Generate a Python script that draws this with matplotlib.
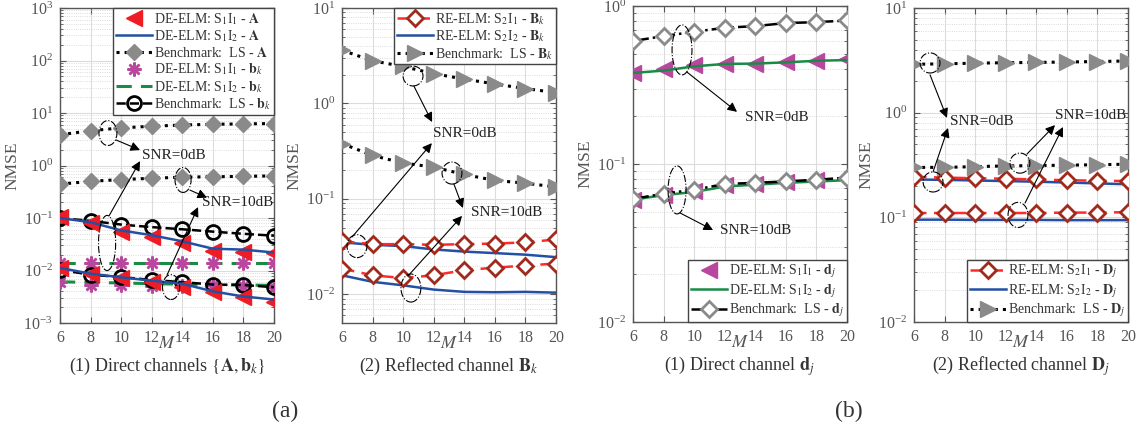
import matplotlib
matplotlib.use("Agg")
import matplotlib.pyplot as plt
from matplotlib.patches import Ellipse
from matplotlib.lines import Line2D

plt.rcParams['font.family'] = ['Liberation Serif', 'DejaVu Serif']
plt.rcParams['mathtext.fontset'] = 'stix'

M = [6, 8, 10, 12, 14, 16, 18, 20]

# Panel (a)-(1): direct channels {A, b_k}
a1_s1i1_A_0 = [0.105, 0.079, 0.055, 0.043, 0.034, 0.024, 0.023, 0.022]
a1_s1i2_A_0 = [0.100, 0.083, 0.058, 0.047, 0.036, 0.026, 0.025, 0.022]
a1_ls_A_0 = [3.85, 4.6, 5.2, 5.6, 5.9, 6.1, 6.2, 6.3]
a1_s1i1_b_0 = [0.0138, 0.0138, 0.0138, 0.0138, 0.0138, 0.0138, 0.0138, 0.0138]
a1_s1i2_b_0 = [0.0136, 0.0136, 0.0136, 0.0136, 0.0136, 0.0136, 0.0136, 0.0136]
a1_ls_b_0 = [0.100, 0.088, 0.075, 0.067, 0.061, 0.055, 0.050, 0.046]
a1_s1i1_A_10 = [0.011, 0.0086, 0.0073, 0.0060, 0.0048, 0.0039, 0.0031, 0.0025]
a1_s1i2_A_10 = [0.0112, 0.0087, 0.0074, 0.0064, 0.0056, 0.0040, 0.0032, 0.0028]
a1_ls_A_10 = [0.44, 0.50, 0.54, 0.57, 0.60, 0.61, 0.62, 0.635]
a1_s1i1_b_10 = [0.0060, 0.0053, 0.0054, 0.0051, 0.0050, 0.0052, 0.0051, 0.0049]
a1_s1i2_b_10 = [0.0061, 0.0059, 0.0058, 0.0056, 0.0055, 0.0054, 0.0053, 0.0052]
a1_ls_b_10 = [0.0103, 0.0083, 0.0075, 0.0066, 0.0060, 0.0054, 0.0053, 0.0048]

# Panel (a)-(2): reflected channel B_k
a2_s2i1_0 = [0.036, 0.0335, 0.0335, 0.033, 0.0335, 0.034, 0.035, 0.0375]
a2_s2i2_0 = [0.035, 0.033, 0.032, 0.0295, 0.028, 0.027, 0.026, 0.0245]
a2_ls_0 = [3.6, 2.8, 2.44, 2.05, 1.8, 1.6, 1.43, 1.3]
a2_s2i1_10 = [0.0186, 0.0158, 0.0148, 0.0158, 0.0179, 0.019, 0.020, 0.021]
a2_s2i2_10 = [0.0158, 0.0135, 0.0124, 0.0112, 0.0106, 0.0105, 0.0106, 0.0104]
a2_ls_10 = [0.38, 0.285, 0.237, 0.215, 0.18, 0.156, 0.146, 0.133]

# Panel (b)-(1): direct channel d_j
b1_s1i1_0 = [0.377, 0.40, 0.425, 0.43, 0.43, 0.44, 0.45, 0.46]
b1_s1i2_0 = [0.377, 0.39, 0.415, 0.43, 0.432, 0.44, 0.45, 0.455]
b1_ls_0 = [0.60, 0.645, 0.687, 0.728, 0.746, 0.78, 0.79, 0.81]
b1_s1i1_10 = [0.0595, 0.064, 0.067, 0.0735, 0.075, 0.077, 0.079, 0.081]
b1_s1i2_10 = [0.0595, 0.0635, 0.0665, 0.072, 0.074, 0.076, 0.0775, 0.079]
b1_ls_10 = [0.060, 0.065, 0.0687, 0.0747, 0.076, 0.0776, 0.0795, 0.082]

# Panel (b)-(2): reflected channel D_j
b2_s2i1_0 = [0.243, 0.240, 0.236, 0.234, 0.230, 0.226, 0.224, 0.222]
b2_s2i2_0 = [0.230, 0.228, 0.225, 0.222, 0.219, 0.215, 0.211, 0.207]
b2_ls_0 = [2.9, 2.93, 2.97, 3.0, 3.02, 3.05, 3.08, 3.12]
b2_s2i1_10 = [0.110, 0.110, 0.110, 0.110, 0.110, 0.111, 0.111, 0.112]
b2_s2i2_10 = [0.095, 0.095, 0.0945, 0.0945, 0.0945, 0.094, 0.094, 0.094]
b2_ls_10 = [0.30, 0.30, 0.305, 0.31, 0.312, 0.315, 0.318, 0.322]

RED = '#ee1c25'
BLUE = '#2350a3'
GRAY = '#8a8a8a'
MAG = '#b8489e'
GREEN = '#1b8a45'
BROWN = '#a02a1c'
LRED = '#ff2a2a'

W, H = 1141, 438
fig = plt.figure(figsize=(W / 100, H / 100), dpi=100)

def px_axes(x0, x1, y0, y1):
    return fig.add_axes([x0 / W, (H - y1) / H, (x1 - x0) / W, (y1 - y0) / H])

ax1 = px_axes(60, 274, 8, 323)
ax2 = px_axes(342, 556, 8, 323)
ax3 = px_axes(633, 847, 6, 322)
ax4 = px_axes(914, 1128, 8, 322)

def style(ax, ylim):
    ax.set_yscale('log')
    ax.set_xlim(6, 20)
    ax.set_ylim(*ylim)
    ax.set_xticks(M)
    ax.grid(True, which='major', color='#dcdcdc', lw=0.8)
    ax.grid(True, which='minor', axis='y', color='#d0d0d0', lw=0.6, ls=':')
    ax.set_axisbelow(True)
    for s in ax.spines.values():
        s.set_color('#555555')
        s.set_linewidth(1.0)
    ax.tick_params(which='both', direction='in', colors='#555555', labelcolor='#555555',
                   labelsize=11.5, top=True, right=True)
    ax.tick_params(which='major', length=4, pad=5)
    ax.tick_params(which='minor', length=2)
    ax.set_ylabel('NMSE', fontsize=12.5, color='#555555', labelpad=2)
    ax.set_xlabel('$M$', fontsize=13, color='#555555', labelpad=-8)

ms_tri = 11
ms_d = 8.5
lw = 1.8
AST = (8, 2, 0)

# ---- Panel a1
style(ax1, (1e-3, 1e3))
for d in (a1_s1i2_b_0, a1_s1i2_b_10):
    ax1.plot(M, d, color=GREEN, ls=(0, (5, 3)), lw=2.2, zorder=2)
for d in (a1_s1i1_b_0, a1_s1i1_b_10):
    ax1.plot(M, d, ls='none', marker=AST, color=MAG, ms=10, mec=MAG, mew=1.8, zorder=3)
for d in (a1_ls_b_0, a1_ls_b_10):
    ax1.plot(M, d, color='black', ls='--', lw=lw, marker='o', ms=10, mfc='none', mec='black', mew=2, zorder=4)
for d in (a1_s1i1_A_0, a1_s1i1_A_10):
    ax1.plot(M, d, ls='none', marker='<', color=RED, ms=ms_tri, zorder=5)
for d in (a1_s1i2_A_0, a1_s1i2_A_10):
    ax1.plot(M, d, color=BLUE, lw=lw, zorder=6)
for d in (a1_ls_A_0, a1_ls_A_10):
    ax1.plot(M, d, color='black', ls=':', lw=2.2, marker='D', ms=ms_d, mfc=GRAY, mec=GRAY, zorder=5)
h1 = [Line2D([], [], ls='none', marker='<', color=RED, ms=ms_tri),
      Line2D([], [], color=BLUE, lw=lw),
      Line2D([], [], color='black', ls=':', lw=2.2, marker='D', ms=ms_d, mfc=GRAY, mec=GRAY),
      Line2D([], [], ls='none', marker=AST, color=MAG, ms=10, mew=1.8),
      Line2D([], [], color=GREEN, ls=(0, (5, 3)), lw=2.2),
      Line2D([], [], color='black', ls='--', lw=lw, marker='o', ms=10, mfc='none', mec='black', mew=2)]
l1 = [r'DE-ELM: S$_1$I$_1$ - $\mathbf{A}$', r'DE-ELM: S$_1$I$_2$ - $\mathbf{A}$',
      r'Benchmark:  LS - $\mathbf{A}$', r'DE-ELM: S$_1$I$_1$ - $\mathbf{b}_k$',
      r'DE-ELM: S$_1$I$_2$ - $\mathbf{b}_k$', r'Benchmark:  LS - $\mathbf{b}_k$']

def legend(ax, h, l, loc):
    lg = ax.legend(h, l, loc=loc, fontsize=10, handlelength=2.6, handletextpad=0.15,
                   borderpad=0.2, labelspacing=0.12, fancybox=False, framealpha=1,
                   edgecolor='#444444', borderaxespad=0.0, numpoints=1)
    lg.get_frame().set_linewidth(1.0)
    for t in lg.get_texts():
        t.set_color('#333333')
    return lg

legend(ax1, h1, l1, 'upper right')

def ell(ax, cx, cy, w, h):
    ax.add_patch(Ellipse((cx, cy), w, h, transform=ax.transAxes, fill=False,
                         ls='-.', lw=0.8, ec='black', zorder=8))

def arr(ax, x0, y0, x1, y1):
    ax.annotate('', xy=(x1, y1), xytext=(x0, y0), xycoords='axes fraction',
                textcoords='axes fraction',
                arrowprops=dict(arrowstyle='-|>', lw=0.8, color='black',
                                mutation_scale=14, shrinkA=0, shrinkB=0), zorder=9)

def txt(ax, x, y, s):
    ax.text(x, y, s, transform=ax.transAxes, fontsize=11, va='center', ha='left',
            color='#222222', zorder=9)

ell(ax1, 0.224, 0.603, 0.084, 0.079)
arr(ax1, 0.262, 0.581, 0.374, 0.549)
txt(ax1, 0.383, 0.533, 'SNR=0dB')
ell(ax1, 0.575, 0.454, 0.075, 0.079)
arr(ax1, 0.607, 0.422, 0.687, 0.398)
txt(ax1, 0.664, 0.384, 'SNR=10dB')
ell(ax1, 0.22, 0.254, 0.08, 0.175)
arr(ax1, 0.229, 0.340, 0.374, 0.514)
ell(ax1, 0.519, 0.114, 0.08, 0.079)
arr(ax1, 0.50, 0.152, 0.645, 0.368)

# ---- Panel a2
style(ax2, (5e-3, 10))
for d in (a2_s2i2_0, a2_s2i2_10):
    ax2.plot(M, d, color=BLUE, lw=lw, zorder=4)
for d in (a2_s2i1_0, a2_s2i1_10):
    ax2.plot(M, d, color=LRED, ls=(0, (5, 3)), lw=lw, marker='D', ms=ms_d, mfc='white',
             mec=BROWN, mew=2, zorder=5)
for d in (a2_ls_0, a2_ls_10):
    ax2.plot(M, d, color='black', ls=':', lw=2.2, marker='>', ms=ms_tri, mfc=GRAY, mec=GRAY, zorder=5)
h2 = [Line2D([], [], color=LRED, ls=(0, (5, 3)), lw=lw, marker='D', ms=ms_d, mfc='white', mec=BROWN, mew=2),
      Line2D([], [], color=BLUE, lw=lw),
      Line2D([], [], color='black', ls=':', lw=2.2, marker='>', ms=ms_tri, mfc=GRAY, mec=GRAY)]
l2 = [r'RE-ELM: S$_2$I$_1$ - $\mathbf{B}_k$', r'RE-ELM: S$_2$I$_2$ - $\mathbf{B}_k$',
      r'Benchmark:  LS - $\mathbf{B}_k$']
legend(ax2, h2, l2, 'upper right')
ell(ax2, 0.332, 0.784, 0.093, 0.063)
arr(ax2, 0.336, 0.752, 0.421, 0.638)
txt(ax2, 0.425, 0.603, 'SNR=0dB')
ell(ax2, 0.514, 0.476, 0.093, 0.07)
arr(ax2, 0.523, 0.441, 0.565, 0.365)
txt(ax2, 0.603, 0.352, 'SNR=10dB')
ell(ax2, 0.07, 0.244, 0.093, 0.073)
arr(ax2, 0.047, 0.273, 0.42, 0.571)
ell(ax2, 0.322, 0.111, 0.093, 0.089)
arr(ax2, 0.308, 0.149, 0.561, 0.34)

# ---- Panel b1
style(ax3, (1e-2, 1))
for d in (b1_s1i1_0, b1_s1i1_10):
    ax3.plot(M, d, ls='none', marker='<', color=MAG, ms=ms_tri, zorder=4)
for d in (b1_s1i2_0, b1_s1i2_10):
    ax3.plot(M, d, color=GREEN, lw=lw, zorder=5)
for d in (b1_ls_0, b1_ls_10):
    ax3.plot(M, d, color='black', ls='-.', lw=lw, marker='D', ms=8, mfc='white',
             mec=GRAY, mew=2, zorder=6)
h3 = [Line2D([], [], ls='none', marker='<', color=MAG, ms=ms_tri),
      Line2D([], [], color=GREEN, lw=lw),
      Line2D([], [], color='black', ls='-.', lw=lw, marker='D', ms=8, mfc='white', mec=GRAY, mew=2)]
l3 = [r'DE-ELM: S$_1$I$_1$ - $\mathbf{d}_j$', r'DE-ELM: S$_1$I$_2$ - $\mathbf{d}_j$',
      r'Benchmark:  LS - $\mathbf{d}_j$']
legend(ax3, h3, l3, 'lower right')
ell(ax3, 0.229, 0.861, 0.093, 0.158)
arr(ax3, 0.252, 0.791, 0.486, 0.665)
txt(ax3, 0.523, 0.646, 'SNR=0dB')
ell(ax3, 0.206, 0.418, 0.084, 0.152)
arr(ax3, 0.22, 0.345, 0.374, 0.291)
txt(ax3, 0.407, 0.291, 'SNR=10dB')

# ---- Panel b2
style(ax4, (1e-2, 10))
for d in (b2_s2i2_0, b2_s2i2_10):
    ax4.plot(M, d, color=BLUE, lw=lw, zorder=4)
for d in (b2_s2i1_0, b2_s2i1_10):
    ax4.plot(M, d, color=LRED, ls=(0, (5, 3)), lw=lw, marker='D', ms=ms_d, mfc='white',
             mec=BROWN, mew=2, zorder=5)
for d in (b2_ls_0, b2_ls_10):
    ax4.plot(M, d, color='black', ls=':', lw=2.2, marker='>', ms=ms_tri, mfc=GRAY, mec=GRAY, zorder=5)
l4 = [r'RE-ELM: S$_2$I$_1$ - $\mathbf{D}_j$', r'RE-ELM: S$_2$I$_2$ - $\mathbf{D}_j$',
      r'Benchmark:  LS - $\mathbf{D}_j$']
legend(ax4, h2, l4, 'lower right')
ell(ax4, 0.075, 0.825, 0.093, 0.064)
arr(ax4, 0.075, 0.787, 0.154, 0.65)
txt(ax4, 0.168, 0.637, 'SNR=0dB')
ell(ax4, 0.089, 0.446, 0.093, 0.064)
arr(ax4, 0.089, 0.478, 0.159, 0.618)
ell(ax4, 0.495, 0.506, 0.093, 0.064)
arr(ax4, 0.528, 0.535, 0.659, 0.627)
txt(ax4, 0.659, 0.659, 'SNR=10dB')
ell(ax4, 0.486, 0.341, 0.093, 0.08)
arr(ax4, 0.519, 0.379, 0.696, 0.621)

# captions
def ftxt(x, y, s, size=13):
    fig.text(x / W, (H - y) / H, s, ha='center', va='center', fontsize=size, color='#333333')

ftxt(167, 366, r'(1) Direct channels $\{\mathbf{A},\mathbf{b}_k\}$')
ftxt(449, 366, r'(2) Reflected channel $\mathbf{B}_k$')
ftxt(740, 366, r'(1) Direct channel $\mathbf{d}_j$')
ftxt(1021, 366, r'(2) Reflected channel $\mathbf{D}_j$')
ftxt(285, 411, '(a)', size=17)
ftxt(849, 411, '(b)', size=17)

fig.savefig('out.png', dpi=100)
